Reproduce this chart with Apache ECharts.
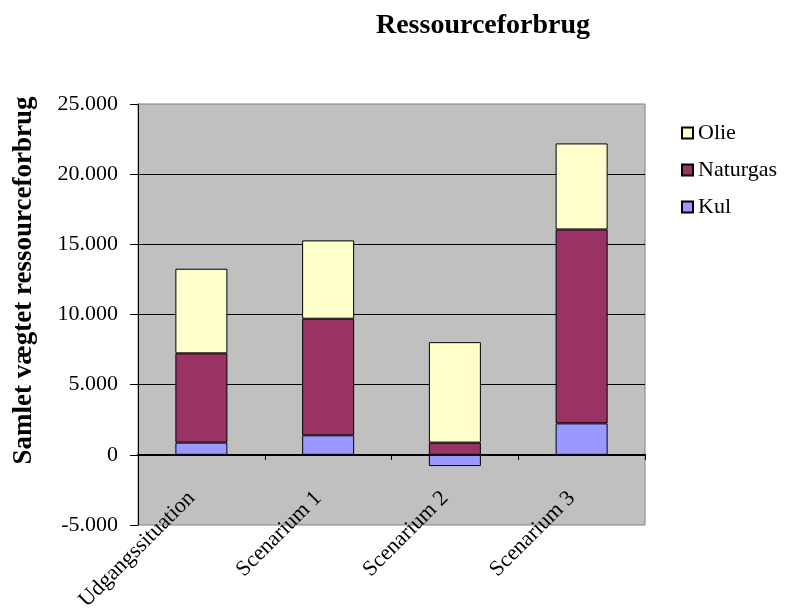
<!DOCTYPE html>
<html>
<head>
<meta charset="utf-8">
<script src="https://cdn.jsdelivr.net/npm/echarts@6/dist/echarts.min.js"></script>
<style>
  html, body { margin: 0; padding: 0; background: #ffffff; }
  #chart { width: 791px; height: 613px; }
</style>
</head>
<body>
<div id="chart"></div>
<script>
// Scenarios on the category axis
const categories = ['Udgangssituation', 'Scenarium 1', 'Scenarium 2', 'Scenarium 3'];

// Weighted resource consumption per fuel (stacked: Kul at the bottom, Olie on top)
const kul = [870, 1390, -800, 2240];
const naturgas = [6360, 8310, 870, 13820];
const olie = [6030, 5580, 7160, 6130];

// Value axis range and tick step
const yMin = -5000;
const yMax = 25000;
const yStep = 5000;

// Danish number format: '.' as thousands separator
function danish(v) {
  const s = String(Math.abs(v)).replace(/\B(?=(\d{3})+(?!\d))/g, '.');
  return (v < 0 ? '-' : '') + s;
}

const serif = "'Liberation Serif', 'DejaVu Serif', serif";
const chart = echarts.init(document.getElementById('chart'), null, { renderer: 'canvas' });

const barBorder = { borderColor: '#000000', borderWidth: 1 };

chart.setOption({
  animation: false,
  backgroundColor: '#ffffff',
  title: {
    text: 'Ressourceforbrug',
    left: 478,
    textAlign: 'center',
    top: 7,
    textStyle: { fontFamily: serif, fontSize: 28, fontWeight: 'bold', color: '#000000' }
  },
  legend: {
    orient: 'vertical',
    left: 676,
    top: 117,
    itemWidth: 11,
    itemHeight: 11,
    itemGap: 15,
    icon: 'rect',
    data: ['Olie', 'Naturgas', 'Kul'],
    textStyle: { fontFamily: serif, fontSize: 22, color: '#000000' }
  },
  grid: {
    left: 138,
    top: 104,
    right: 146,
    bottom: 88,
    containLabel: false,
    outerBoundsMode: 'none',
    show: true,
    backgroundColor: '#c0c0c0',
    borderColor: '#808080',
    borderWidth: 1
  },
  xAxis: {
    type: 'category',
    data: categories,
    axisLine: { onZero: true, lineStyle: { color: '#000000', width: 2 } },
    axisTick: { show: true, alignWithLabel: false, length: 5, lineStyle: { color: '#000000', width: 1 } },
    axisLabel: {
      interval: 0,
      rotate: 45,
      margin: -40,
      padding: [0, 14, 0, 0],
      fontFamily: serif,
      fontSize: 22,
      color: '#000000'
    },
    splitLine: { show: false }
  },
  yAxis: {
    type: 'value',
    min: yMin,
    max: yMax,
    interval: yStep,
    name: 'Samlet vægtet ressourceforbrug',
    nameLocation: 'middle',
    nameRotate: 90,
    nameGap: 100,
    nameTextStyle: { fontFamily: serif, fontSize: 27, fontWeight: 'bold', color: '#000000', padding: [0, 0, 0, 68] },
    axisLine: { show: true, lineStyle: { color: '#000000', width: 1 } },
    axisTick: { show: true, length: 8, lineStyle: { color: '#000000' } },
    axisLabel: {
      margin: 20,
      fontFamily: serif,
      fontSize: 22,
      color: '#000000',
      formatter: danish
    },
    splitLine: { show: true, showMinLine: false, showMaxLine: false, lineStyle: { color: '#000000', width: 1 } }
  },
  series: [
    { name: 'Kul', type: 'bar', stack: 'total', barWidth: 52, data: kul,
      itemStyle: Object.assign({ color: '#9999ff' }, barBorder) },
    { name: 'Naturgas', type: 'bar', stack: 'total', barWidth: 52, data: naturgas,
      itemStyle: Object.assign({ color: '#993366' }, barBorder) },
    { name: 'Olie', type: 'bar', stack: 'total', barWidth: 52, data: olie,
      itemStyle: Object.assign({ color: '#ffffcc' }, barBorder) }
  ]
});
</script>
</body>
</html>
